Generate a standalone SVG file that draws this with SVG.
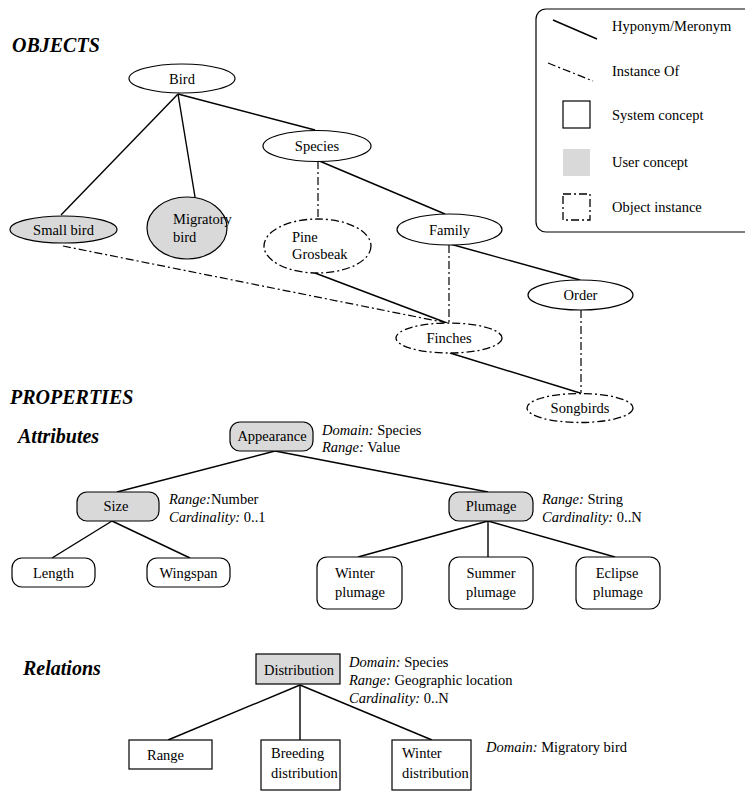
<svg xmlns="http://www.w3.org/2000/svg" width="745" height="792" viewBox="0 0 745 792">
  <style>
    text { font-family: "Liberation Serif", "Times New Roman", serif; font-size: 14.5px; fill: #000; }
    .head { font-weight: bold; font-style: italic; font-size: 20px; }
    .it { font-style: italic; }
    .mid { text-anchor: middle; }
    .node { fill: #fff; stroke: #000; stroke-width: 1.2; }
    .user { fill: #d9d9d9; stroke: #000; stroke-width: 1.2; }
    .inst { fill: #fff; stroke: #000; stroke-width: 1.3; stroke-dasharray: 8 3 2 3; }
    .rel { stroke: #000; stroke-width: 1.4; fill: none; }
    .io { stroke: #000; stroke-width: 1.2; fill: none; stroke-dasharray: 8 3 2 3; }
  </style>

  <!-- section headings -->
  <text class="head" x="12" y="52">OBJECTS</text>
  <text class="head" x="10" y="404">PROPERTIES</text>
  <text class="head" x="18" y="443">Attributes</text>
  <text class="head" x="23" y="675">Relations</text>

  <!-- legend -->
  <g id="legend">
    <rect x="536" y="9" width="230" height="223" rx="10" fill="#fff" stroke="#000" stroke-width="1.2"/>
    <line class="rel" x1="553" y1="20" x2="597" y2="39"/>
    <text x="612" y="31">Hyponym/Meronym</text>
    <line class="io" x1="548" y1="63" x2="593" y2="81"/>
    <text x="612" y="76">Instance Of</text>
    <rect class="node" x="563" y="101" width="27" height="27"/>
    <text x="612" y="120">System concept</text>
    <rect x="563" y="149" width="27" height="27" fill="#d9d9d9"/>
    <text x="612" y="167">User concept</text>
    <rect class="inst" x="563" y="194" width="27" height="26"/>
    <text x="612" y="212">Object instance</text>
  </g>

  <!-- connectors -->
  <g id="connectors">
    <!-- object hierarchy -->
    <line class="rel" x1="178" y1="94" x2="61" y2="215"/>
    <line class="rel" x1="178" y1="94" x2="195" y2="197"/>
    <line class="rel" x1="178" y1="94" x2="315" y2="130"/>
    <line class="rel" x1="317" y1="160" x2="445" y2="214"/>
    <line class="rel" x1="450" y1="244" x2="580" y2="280"/>
    <line class="rel" x1="315" y1="273" x2="447" y2="323"/>
    <line class="rel" x1="450" y1="353" x2="580" y2="393"/>
    <!-- instance-of links -->
    <line class="io" x1="318" y1="161" x2="318" y2="219"/>
    <line class="io" x1="449" y1="245" x2="449" y2="323"/>
    <line class="io" x1="581" y1="310" x2="581" y2="393"/>
    <line class="io" x1="63" y1="246" x2="447" y2="323"/>
    <!-- attributes -->
    <line class="rel" x1="275" y1="451" x2="117" y2="492"/>
    <line class="rel" x1="275" y1="451" x2="488" y2="492"/>
    <line class="rel" x1="112" y1="521" x2="52" y2="558"/>
    <line class="rel" x1="112" y1="521" x2="190" y2="558"/>
    <line class="rel" x1="488" y1="521" x2="358" y2="557"/>
    <line class="rel" x1="488" y1="521" x2="488" y2="557"/>
    <line class="rel" x1="488" y1="521" x2="615" y2="557"/>
    <!-- relations -->
    <line class="rel" x1="300" y1="685" x2="168" y2="740"/>
    <line class="rel" x1="300" y1="685" x2="300" y2="740"/>
    <line class="rel" x1="300" y1="685" x2="432" y2="740"/>
  </g>

  <!-- object nodes -->
  <g id="bird">
    <ellipse class="node" cx="182" cy="78.5" rx="53" ry="14.5"/>
    <text class="mid" x="182" y="84">Bird</text>
  </g>
  <g id="small-bird">
    <ellipse class="user" cx="63.5" cy="229.5" rx="53.5" ry="13.5"/>
    <text class="mid" x="63.5" y="235">Small bird</text>
  </g>
  <g id="migratory-bird">
    <ellipse class="user" cx="187" cy="228" rx="40" ry="31"/>
    <text x="173" y="224">Migratory</text>
    <text x="173" y="242">bird</text>
  </g>
  <g id="species">
    <ellipse class="node" cx="317" cy="146" rx="54" ry="15.5"/>
    <text class="mid" x="317" y="151">Species</text>
  </g>
  <g id="pine-grosbeak">
    <ellipse class="inst" cx="317.5" cy="246" rx="53.5" ry="27"/>
    <text x="292" y="242">Pine</text>
    <text x="292" y="259">Grosbeak</text>
  </g>
  <g id="family">
    <ellipse class="node" cx="449.5" cy="229.5" rx="52.5" ry="15.5"/>
    <text class="mid" x="449.5" y="235">Family</text>
  </g>
  <g id="order">
    <ellipse class="node" cx="580.5" cy="295" rx="52.5" ry="15"/>
    <text class="mid" x="580.5" y="300">Order</text>
  </g>
  <g id="finches">
    <ellipse class="inst" cx="449" cy="338" rx="53" ry="15"/>
    <text class="mid" x="449" y="343">Finches</text>
  </g>
  <g id="songbirds">
    <ellipse class="inst" cx="580" cy="408" rx="53" ry="14.5"/>
    <text class="mid" x="580" y="413">Songbirds</text>
  </g>

  <!-- attribute nodes -->
  <g id="appearance">
    <rect class="user" x="230" y="422" width="83" height="29" rx="10"/>
    <text class="mid" x="272" y="441">Appearance</text>
    <text x="322" y="435"><tspan class="it">Domain:</tspan> Species</text>
    <text x="322" y="452"><tspan class="it">Range:</tspan> Value</text>
  </g>
  <g id="size">
    <rect class="user" x="77" y="492" width="82" height="29" rx="10"/>
    <text class="mid" x="116" y="511">Size</text>
    <text x="169" y="504"><tspan class="it">Range:</tspan>Number</text>
    <text x="169" y="522"><tspan class="it">Cardinality:</tspan>  0..1</text>
  </g>
  <g id="plumage">
    <rect class="user" x="449" y="492" width="84" height="29" rx="10"/>
    <text class="mid" x="491" y="511">Plumage</text>
    <text x="542" y="504"><tspan class="it">Range:</tspan> String</text>
    <text x="542" y="522"><tspan class="it">Cardinality:</tspan> 0..N</text>
  </g>
  <g id="length">
    <rect class="node" x="12" y="558" width="83" height="29" rx="10"/>
    <text class="mid" x="53.5" y="578">Length</text>
  </g>
  <g id="wingspan">
    <rect class="node" x="147" y="558" width="83" height="29" rx="10"/>
    <text class="mid" x="188.5" y="578">Wingspan</text>
  </g>
  <g id="winter-plumage">
    <rect class="node" x="317" y="557" width="85" height="52" rx="10"/>
    <text x="335" y="578">Winter</text>
    <text x="335" y="597">plumage</text>
  </g>
  <g id="summer-plumage">
    <rect class="node" x="449" y="557" width="84" height="52" rx="10"/>
    <text class="mid" x="491" y="578">Summer</text>
    <text class="mid" x="491" y="597">plumage</text>
  </g>
  <g id="eclipse-plumage">
    <rect class="node" x="576" y="557" width="84" height="52" rx="10"/>
    <text class="mid" x="617" y="578">Eclipse</text>
    <text class="mid" x="618" y="597">plumage</text>
  </g>

  <!-- relation nodes -->
  <g id="distribution">
    <rect class="user" x="256" y="654" width="84" height="30"/>
    <text class="mid" x="299" y="675">Distribution</text>
    <text x="349" y="667"><tspan class="it">Domain:</tspan> Species</text>
    <text x="349" y="685"><tspan class="it">Range:</tspan>  Geographic location</text>
    <text x="349" y="703"><tspan class="it">Cardinality:</tspan>  0..N</text>
  </g>
  <g id="range">
    <rect class="node" x="129" y="740" width="83" height="29"/>
    <text x="147" y="760">Range</text>
  </g>
  <g id="breeding-distribution">
    <rect class="node" x="261" y="740" width="79" height="50"/>
    <text x="271" y="758">Breeding</text>
    <text x="271" y="778">distribution</text>
  </g>
  <g id="winter-distribution">
    <rect class="node" x="392" y="740" width="79" height="50"/>
    <text x="402" y="758">Winter</text>
    <text x="402" y="778">distribution</text>
    <text x="486" y="752"><tspan class="it">Domain:</tspan> Migratory bird</text>
  </g>
</svg>
